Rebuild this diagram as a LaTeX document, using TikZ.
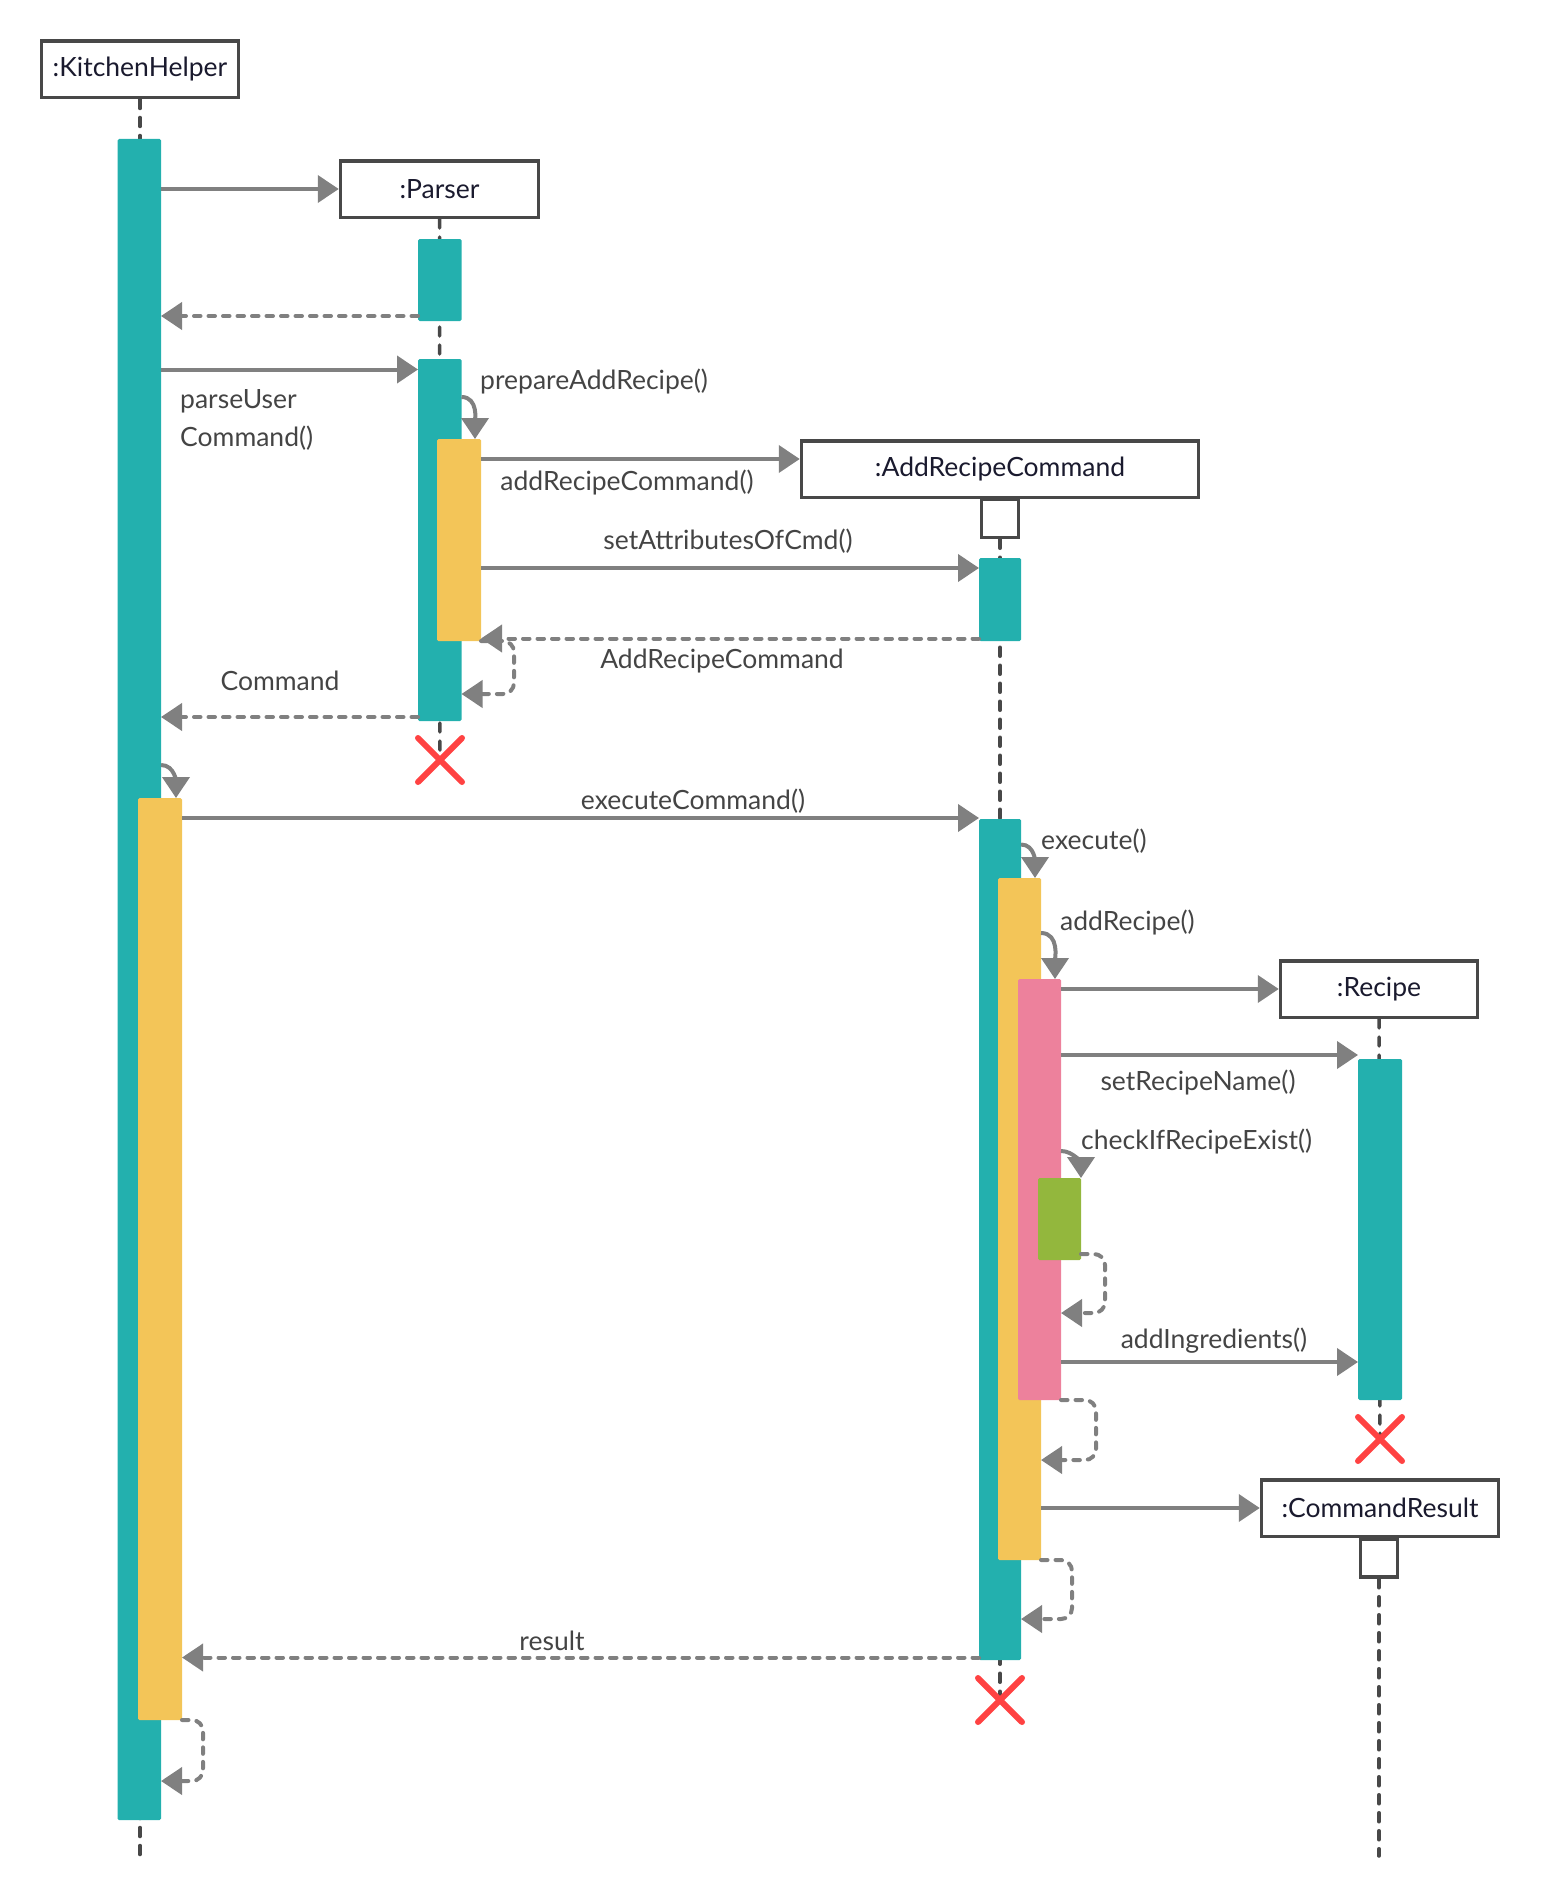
\documentclass[tikz,border=0pt]{standalone}
\usepackage{fontspec}
\setmainfont{Lato}
\usetikzlibrary{arrows.meta,fit,shapes.misc}

\definecolor{barteal}{RGB}{35,176,174}
\definecolor{baryellow}{RGB}{243,197,88}
\definecolor{barpink}{RGB}{237,129,156}
\definecolor{bargreen}{RGB}{147,183,61}
\definecolor{msggray}{RGB}{128,128,128}
\definecolor{linegray}{RGB}{72,72,72}
\definecolor{killred}{RGB}{255,66,66}
\definecolor{labelgray}{RGB}{68,68,68}
\definecolor{objink}{RGB}{26,26,46}

\begin{document}
\begin{tikzpicture}[
    x=1pt,y=-1pt,
    font=\fontsize{26.5pt}{38.5pt}\selectfont,
    object/.style={draw=linegray,line width=3.5pt,fill=white,text=objink,
        minimum height=56.5pt,inner sep=0pt},
    stub/.style={draw=linegray,line width=3.5pt,fill=white,
        minimum width=37pt,minimum height=38pt},
    lifeline/.style={draw=linegray,line width=3.5pt,line cap=round,
        dash pattern=on 9pt off 9pt},
    bar/.style={inner sep=0pt,outer sep=0pt,rounded corners=1.5pt},
    call/.style={draw=msggray,line width=4pt,-{Triangle[length=21pt,width=27pt]}},
    reply/.style={call,line cap=round,dash pattern=on 6.5pt off 8pt},
    loopback/.style={reply,rounded corners=11pt},
    msg label/.style={text=labelgray,inner sep=0pt},
    kill/.style={cross out,draw=killred,line width=6pt,line cap=round,
        minimum size=38pt,inner sep=0pt}
]
    \useasboundingbox (0,0) rectangle (1540,1900);

    % objects
    \node[object,minimum width=197pt] (kh) at (140,69.5) {:KitchenHelper};
    \node[object,minimum width=198pt] (parser) at (439.5,189) {:Parser};
    \node[object,minimum width=397pt] (arc) at (1000,469) {:AddRecipeCommand};
    \node[stub] (arcStub) at (1000,518.5) {};
    \node[object,minimum width=197pt] (recipe) at (1379,989) {:Recipe};
    \node[object,minimum width=237pt] (cr) at (1380,1508) {:CommandResult};
    \node[stub] (crStub) at (1379,1558) {};

    \coordinate (khEnd) at (140,1856);
    \coordinate (crEnd) at (1379,1856);
    \coordinate (paEnd) at (440,760);
    \coordinate (acEnd) at (1000,1700);
    \coordinate (reEnd) at (1380,1439);

    \draw[lifeline] (kh.south) -- (khEnd);
    \draw[lifeline] (parser.south) -- (paEnd);
    \draw[lifeline] (arcStub.south) -- (acEnd);
    \draw[lifeline] (recipe.south) -- (reEnd);
    \draw[lifeline] (crStub.south) -- (crEnd);

    % activation bars, drawn back to front
    \foreach \name/\col/\xa/\ya/\xb/\yb in {
        khA/barteal/117.5/139/161/1820,
        khB/baryellow/138/798/182/1720,
        paA/barteal/418/239/461.5/321,
        paB/barteal/418/359/461.5/721,
        paC/baryellow/437/439/481/641,
        acA/barteal/979/558/1021/641,
        acB/barteal/979/819/1021/1660,
        acC/baryellow/998/878/1041/1560,
        acD/barpink/1018/979/1061/1400,
        acE/bargreen/1038/1178/1081/1260,
        reA/barteal/1358/1059/1402/1400
    }
        \node[bar,fill=\col,fit={(\xa,\ya) (\xb,\yb)}] (\name) {};

    \foreach \row/\y in {r2/316,r3/369.5,r4/397,r5/459,r6/568,r7/638.5,
        r8/694,r9/717,r10/765,r11/818,r12/844.5,r13/933,r15/1055,r16/1151,
        r17/1313,r19/1362,r20/1460,r22/1619,r23/1657.5,r24/1781}
        \coordinate (\row) at (0,\y);

    % messages
    \draw[call] (khA.east |- parser.west) -- (parser.west);
    \draw[reply] (paA.west |- r2) -- (khA.east |- r2);
    \draw[call] (khA.east |- r3) -- (paB.west |- r3);
    \draw[call] (paB.east |- r4) to[out=0,in=90] ([xshift=-6pt]paC.north east);
    \draw[call] (paC.east |- r5) -- (arc.west |- r5);
    \draw[call] (paC.east |- r6) -- (acA.west |- r6);
    \draw[reply] (acA.west |- r7) -- (paC.east |- r7);
    \draw[loopback] (paC.south east) -- ++(33,0) |- (paB.east |- r8);
    \draw[reply] (paB.west |- r9) -- (khA.east |- r9);
    \draw[call] (khA.east |- r10) to[out=0,in=90] ([xshift=-6pt]khB.north east);
    \draw[call] (khB.east |- r11) -- (acB.west |- r11);
    \draw[call] (acB.east |- r12) to[out=0,in=90] ([xshift=-6pt]acC.north east);
    \draw[call] (acC.east |- r13) to[out=0,in=90] ([xshift=-6pt]acD.north east);
    \draw[call] (acD.east |- recipe.west) -- (recipe.west);
    \draw[call] (acD.east |- r15) -- (reA.west |- r15);
    \draw[call] (acD.east |- r16) to[out=0,in=90] (acE.north east);
    \draw[loopback] ([yshift=6pt]acE.south east) -- ++(24,0) |- (acD.east |- r17);
    \draw[call] (acD.east |- r19) -- (reA.west |- r19);
    \draw[loopback] (acD.south east) -- ++(35,0) |- (acC.east |- r20);
    \draw[call] (acC.east |- cr.west) -- (cr.west);
    \draw[loopback] (acC.south east) -- ++(31,0) |- (acB.east |- r22);
    \draw[reply] (acB.west |- r23) -- (khB.east |- r23);
    \draw[loopback] (khB.south east) -- ++(21,0) |- (khA.east |- r24);

    \node[msg label,anchor=west,align=left] (lParse) at (180,420) {parseUser\\Command()};
    \node[msg label,anchor=west] (lPrepare) at (480,381) {prepareAddRecipe()};
    \node[msg label] (lAddCmd) at (627,482) {addRecipeCommand()};
    \node[msg label] (lSetAttr) at (728,541) {setAttributesOfCmd()};
    \node[msg label] (lRetCmd) at (722,661) {AddRecipeCommand};
    \node[msg label] (lCommand) at (280,681) {Command};
    \node[msg label] (lExecCmd) at (693,801) {executeCommand()};
    \node[msg label,anchor=west] (lExecute) at (1041,841) {execute()};
    \node[msg label,anchor=west] (lAddRecipe) at (1060,922) {addRecipe()};
    \node[msg label] (lSetName) at (1198,1082) {setRecipeName()};
    \node[msg label,anchor=west] (lCheck) at (1081,1141) {checkIfRecipeExist()};
    \node[msg label] (lAddIngr) at (1214,1341) {addIngredients()};
    \node[msg label] (lResult) at (552,1641) {result};

    % destroyed objects
    \node[kill] (paX) at (paEnd) {};
    \node[kill] (acX) at (acEnd) {};
    \node[kill] (reX) at (reEnd) {};
\end{tikzpicture}
\end{document}
